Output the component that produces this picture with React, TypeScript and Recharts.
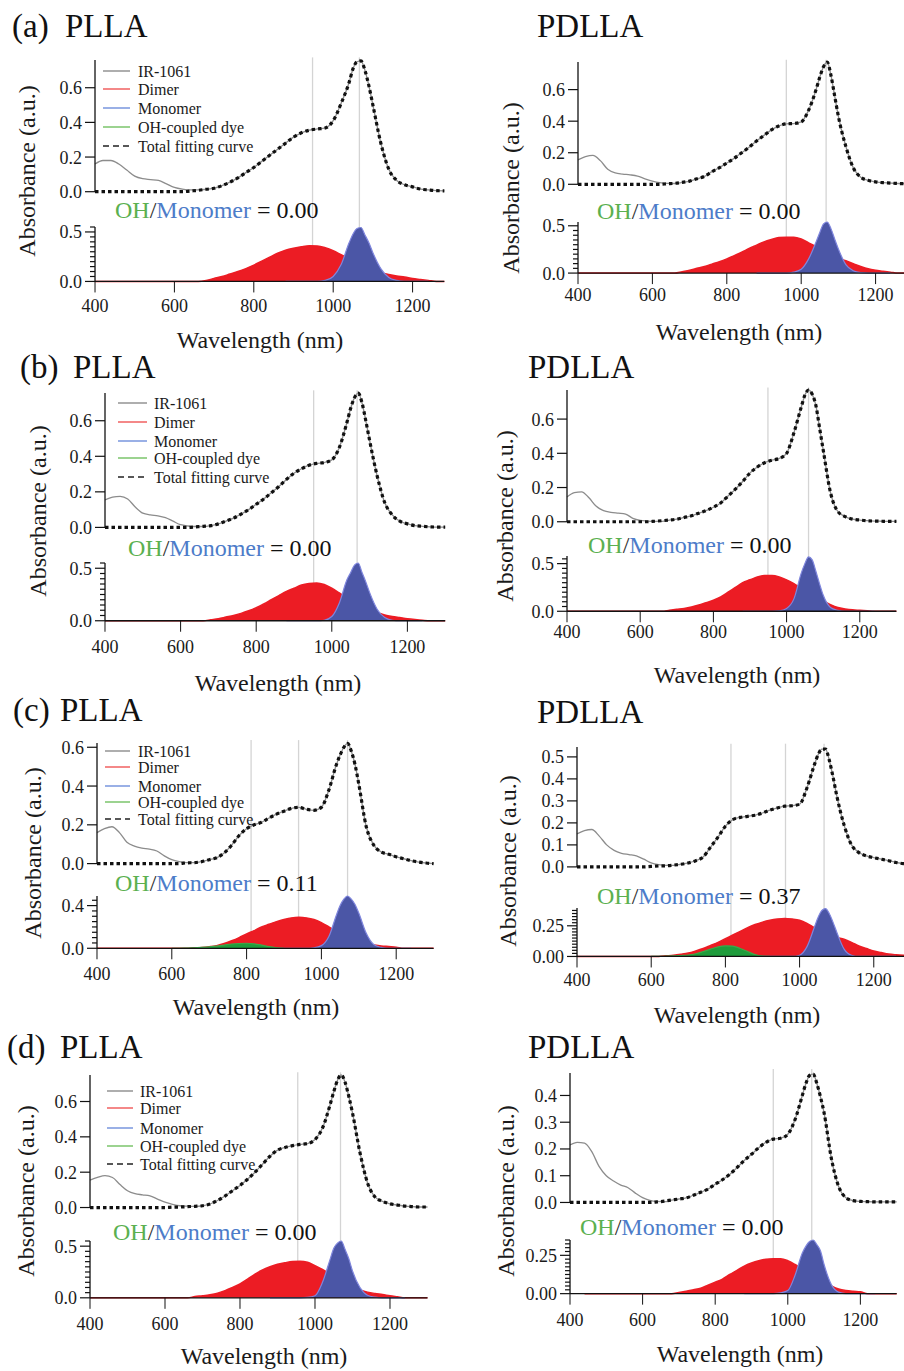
import React from "react";
import { ComposedChart, Line, Area, XAxis, YAxis, ReferenceLine } from "recharts";

const FONT = '"Liberation Serif", "Times New Roman", Times, serif';
const n = null;

// wavelength grid (nm): 20 nm steps, 10 nm steps around the monomer peak
const wavelengths = [
  400, 420, 440, 460, 480, 500, 520, 540, 560, 580,
  600, 620, 640, 660, 680, 700, 720, 740, 760, 780,
  800, 820, 840, 860, 880, 900, 920, 940, 960, 980,
  1000, 1020, 1040, 1050, 1060, 1070, 1080, 1090, 1100,
  1120, 1140, 1160, 1180, 1200, 1220, 1240, 1260, 1280, 1300,
];
const xTicks = [400, 600, 800, 1000, 1200];

// IR-1061 below 660 nm (above that it sits under the fitting curve)
const aPllaIr = [0.16, 0.18, 0.18, 0.16, 0.125, 0.09, 0.075, 0.07, 0.065, 0.045, 0.025, 0.015, 0.01, 0.01];
const aPdllaIr = [0.155, 0.175, 0.183, 0.15, 0.095, 0.072, 0.065, 0.06, 0.052, 0.035, 0.02, 0.01, 0.006, 0.005];
const bPllaIr = [0.155, 0.17, 0.175, 0.16, 0.115, 0.08, 0.07, 0.065, 0.055, 0.035, 0.015, 0.008, 0.005, 0.005];
const bPdllaIr = [0.145, 0.17, 0.175, 0.14, 0.09, 0.065, 0.055, 0.05, 0.045, 0.02, 0.008, 0.004, 0.002, 0.002];
const cPllaIr = [0.16, 0.18, 0.19, 0.16, 0.11, 0.09, 0.08, 0.075, 0.065, 0.04, 0.02, 0.01, 0.005, 0.005];
const cPdllaIr = [0.15, 0.165, 0.17, 0.14, 0.1, 0.075, 0.062, 0.056, 0.05, 0.035, 0.018, 0.01, 0.007, 0.007];
const dPllaIr = [0.155, 0.17, 0.18, 0.17, 0.13, 0.095, 0.078, 0.072, 0.066, 0.048, 0.03, 0.018, 0.01, 0.008];
const dPdllaIr = [0.215, 0.225, 0.222, 0.19, 0.135, 0.1, 0.08, 0.065, 0.055, 0.035, 0.018, 0.008, 0.004, 0.003];

// total fitting curves
const aPllaFit = [
  0, 0, 0, 0, 0, 0, 0, 0, 0, 0,
  0, 0, 0.004, 0.008, 0.014, 0.02, 0.035, 0.055, 0.08, 0.11,
  0.14, 0.175, 0.21, 0.245, 0.28, 0.315, 0.34, 0.355, 0.362, 0.368,
  0.41, 0.51, 0.63, 0.71, 0.75, 0.755, 0.7, 0.61, 0.5,
  0.28, 0.13, 0.065, 0.04, 0.028, 0.015, 0.01, 0.006, 0.005, 0.005,
];
const aPdllaFit = [
  0, 0, 0, 0, 0, 0, 0, 0, 0, 0,
  0, 0, 0.003, 0.006, 0.012, 0.02, 0.035, 0.05, 0.08, 0.105,
  0.135, 0.165, 0.2, 0.235, 0.275, 0.31, 0.345, 0.37, 0.383, 0.385,
  0.395, 0.47, 0.6, 0.68, 0.745, 0.775, 0.69, 0.56, 0.43,
  0.24, 0.105, 0.045, 0.025, 0.015, 0.01, 0.008, 0.005, 0.004, 0.004,
];
const bPllaFit = [
  0, 0, 0, 0, 0, 0, 0, 0, 0, 0,
  0, 0, 0.003, 0.006, 0.01, 0.02, 0.035, 0.052, 0.075, 0.1,
  0.13, 0.16, 0.195, 0.23, 0.27, 0.305, 0.33, 0.35, 0.36, 0.365,
  0.38, 0.45, 0.59, 0.67, 0.73, 0.755, 0.7, 0.6, 0.49,
  0.29, 0.14, 0.07, 0.035, 0.02, 0.01, 0.006, 0.003, 0.002, 0.002,
];
const bPdllaFit = [
  0, 0, 0, 0, 0, 0, 0, 0, 0, 0,
  0, 0, 0.003, 0.006, 0.01, 0.015, 0.025, 0.035, 0.05, 0.065,
  0.085, 0.11, 0.15, 0.19, 0.235, 0.285, 0.32, 0.345, 0.36, 0.37,
  0.4, 0.52, 0.67, 0.74, 0.77, 0.745, 0.68, 0.55, 0.42,
  0.17, 0.06, 0.03, 0.015, 0.01, 0.006, 0.004, 0.003, 0.002, 0.002,
];
const cPllaFit = [
  0, 0, 0, 0, 0, 0, 0, 0, 0, 0,
  0, 0, 0.004, 0.005, 0.01, 0.02, 0.03, 0.055, 0.095, 0.145,
  0.18, 0.2, 0.213, 0.235, 0.255, 0.27, 0.285, 0.29, 0.28, 0.275,
  0.29, 0.38, 0.51, 0.56, 0.6, 0.62, 0.58, 0.51, 0.41,
  0.19, 0.095, 0.06, 0.048, 0.035, 0.025, 0.015, 0.008, 0.003, 0,
];
const cPdllaFit = [
  0, 0, 0, 0, 0, 0, 0, 0, 0, 0,
  0.002, 0.004, 0.005, 0.008, 0.012, 0.018, 0.028, 0.045, 0.09, 0.135,
  0.185, 0.215, 0.225, 0.23, 0.235, 0.245, 0.258, 0.268, 0.276, 0.278,
  0.285, 0.36, 0.465, 0.51, 0.535, 0.535, 0.485, 0.41, 0.325,
  0.19, 0.1, 0.065, 0.05, 0.042, 0.035, 0.028, 0.02, 0.015, 0.012,
];
const dPllaFit = [
  0, 0, 0, 0, 0, 0, 0, 0, 0, 0,
  0, 0.002, 0.003, 0.005, 0.007, 0.01, 0.02, 0.04, 0.065, 0.095,
  0.125, 0.16, 0.2, 0.245, 0.29, 0.325, 0.34, 0.35, 0.357, 0.362,
  0.385, 0.45, 0.58, 0.655, 0.72, 0.75, 0.71, 0.63, 0.535,
  0.31, 0.14, 0.06, 0.035, 0.021, 0.014, 0.008, 0.005, 0.003, 0.003,
];
const dPdllaFit = [
  0, 0, 0, 0, 0, 0, 0, 0, 0, 0,
  0, 0, 0.002, 0.005, 0.009, 0.013, 0.017, 0.027, 0.038, 0.05,
  0.068, 0.085, 0.105, 0.13, 0.157, 0.18, 0.205, 0.225, 0.237, 0.24,
  0.255, 0.31, 0.4, 0.445, 0.475, 0.48, 0.445, 0.395, 0.335,
  0.165, 0.06, 0.018, 0.007, 0.004, 0.003, 0.002, 0.002, 0.002, 0.002,
];

// dimer components
const aPllaDimer = [
  0, 0, 0, 0, 0, 0, 0, 0, 0, 0,
  0, 0, 0, 0, 0.01, 0.03, 0.05, 0.075, 0.1, 0.13,
  0.165, 0.205, 0.245, 0.285, 0.315, 0.335, 0.35, 0.36, 0.358, 0.34,
  0.31, 0.27, 0.23, 0.21, 0.19, 0.17, 0.15, 0.135, 0.12,
  0.09, 0.07, 0.055, 0.045, 0.03, 0.02, 0.01, 0, 0, 0,
];
const aPdllaDimer = [
  0, 0, 0, 0, 0, 0, 0, 0, 0, 0,
  0, 0, 0, 0, 0.015, 0.03, 0.05, 0.07, 0.095, 0.12,
  0.15, 0.185, 0.22, 0.26, 0.295, 0.33, 0.355, 0.375, 0.38, 0.38,
  0.36, 0.32, 0.28, 0.26, 0.24, 0.22, 0.2, 0.18, 0.16,
  0.13, 0.1, 0.07, 0.045, 0.03, 0.02, 0.01, 0, 0, 0,
];
const bPllaDimer = [
  0, 0, 0, 0, 0, 0, 0, 0, 0, 0,
  0, 0, 0, 0, 0.01, 0.02, 0.035, 0.05, 0.07, 0.095,
  0.125, 0.16, 0.2, 0.24, 0.28, 0.31, 0.34, 0.355, 0.36, 0.345,
  0.31, 0.265, 0.22, 0.2, 0.18, 0.16, 0.14, 0.125, 0.11,
  0.08, 0.055, 0.04, 0.03, 0.02, 0.012, 0.005, 0, 0, 0,
];
const bPdllaDimer = [
  0, 0, 0, 0, 0, 0, 0, 0, 0, 0,
  0, 0, 0, 0, 0.01, 0.02, 0.03, 0.045, 0.065, 0.09,
  0.115, 0.15, 0.2, 0.25, 0.3, 0.33, 0.36, 0.375, 0.375, 0.36,
  0.33, 0.29, 0.24, 0.22, 0.2, 0.175, 0.15, 0.13, 0.11,
  0.07, 0.04, 0.025, 0.015, 0.01, 0.005, 0, 0, 0, 0,
];
const cPllaDimer = [
  0, 0, 0, 0, 0, 0, 0, 0, 0, 0,
  0, 0, 0, 0.004, 0.008, 0.015, 0.025, 0.045, 0.07, 0.1,
  0.135, 0.165, 0.2, 0.225, 0.25, 0.27, 0.285, 0.29, 0.285, 0.27,
  0.24, 0.2, 0.16, 0.14, 0.12, 0.105, 0.09, 0.075, 0.065,
  0.045, 0.03, 0.022, 0.016, 0.01, 0, 0, 0, 0, 0,
];
const cPdllaDimer = [
  0, 0, 0, 0, 0, 0, 0, 0, 0, 0,
  0, 0, 0.005, 0.01, 0.018, 0.028, 0.045, 0.065, 0.09, 0.115,
  0.145, 0.175, 0.205, 0.235, 0.26, 0.28, 0.295, 0.305, 0.31, 0.305,
  0.295, 0.27, 0.235, 0.22, 0.205, 0.19, 0.178, 0.165, 0.155,
  0.14, 0.115, 0.085, 0.065, 0.045, 0.032, 0.02, 0.014, 0.01, 0.008,
];
const dPllaDimer = [
  0, 0, 0, 0, 0, 0, 0, 0, 0, 0,
  0, 0, 0, 0, 0.012, 0.02, 0.03, 0.045, 0.07, 0.1,
  0.135, 0.18, 0.23, 0.27, 0.3, 0.325, 0.34, 0.352, 0.355, 0.345,
  0.31, 0.275, 0.23, 0.205, 0.18, 0.16, 0.14, 0.12, 0.1,
  0.075, 0.055, 0.042, 0.032, 0.02, 0.01, 0, 0, 0, 0,
];
const dPdllaDimer = [
  n, n, 0, 0, 0, 0, 0, 0, 0, 0,
  0, 0, 0, 0, 0, 0.008, 0.015, 0.025, 0.035, 0.055,
  0.075, 0.095, 0.125, 0.152, 0.18, 0.2, 0.215, 0.225, 0.228, 0.228,
  0.215, 0.19, 0.16, 0.145, 0.13, 0.115, 0.1, 0.088, 0.075,
  0.05, 0.03, 0.02, 0.015, 0.012, 0, 0, 0, 0, 0,
];

// monomer components
const aPllaMono = [
  n, n, n, n, n, n, n, n, n, n,
  n, n, n, n, n, n, n, n, n, n,
  n, n, n, n, 0, 0, 0, 0, 0, 0.01,
  0.05, 0.17, 0.39, 0.48, 0.535, 0.545, 0.47, 0.39, 0.29,
  0.13, 0.04, 0.01, 0, 0, 0, 0, n, n, n,
];
const aPdllaMono = [
  n, n, n, n, n, n, n, n, n, n,
  n, n, n, n, n, n, n, n, n, n,
  n, n, n, n, 0, 0, 0, 0, 0, 0.01,
  0.04, 0.15, 0.33, 0.43, 0.52, 0.54, 0.47, 0.36, 0.255,
  0.09, 0.025, 0.005, 0, 0, 0, 0, n, n, n,
];
const bPllaMono = [
  n, n, n, n, n, n, n, n, n, n,
  n, n, n, n, n, n, n, n, n, n,
  n, n, n, n, 0, 0, 0, 0, 0, 0.005,
  0.04, 0.17, 0.39, 0.46, 0.53, 0.55, 0.46, 0.37, 0.27,
  0.11, 0.03, 0.005, 0, 0, 0, 0, n, n, n,
];
const bPdllaMono = [
  n, n, n, n, n, n, n, n, n, n,
  n, n, n, n, n, n, n, n, n, n,
  n, n, n, n, 0, 0, 0, 0, 0, 0.005,
  0.03, 0.13, 0.4, 0.5, 0.57, 0.54, 0.42, 0.29, 0.17,
  0.04, 0.01, 0, 0, 0, 0, 0, n, n, n,
];
const cPllaMono = [
  n, n, n, n, n, n, n, n, n, n,
  n, n, n, n, n, n, n, n, n, n,
  n, n, 0, 0, 0, 0, 0, 0, 0, 0.005,
  0.025, 0.11, 0.31, 0.4, 0.46, 0.49, 0.46, 0.41, 0.33,
  0.14, 0.035, 0.008, 0, 0, 0, 0, n, n, n,
];
const cPdllaMono = [
  n, n, n, n, n, n, n, n, n, n,
  n, n, n, n, n, n, n, n, n, n,
  n, n, n, n, 0, 0, 0, 0, 0, 0,
  0.01, 0.08, 0.24, 0.32, 0.375, 0.39, 0.35, 0.28, 0.2,
  0.06, 0.01, 0, 0, 0, 0, 0, 0, n, n,
];
const dPllaMono = [
  n, n, n, n, n, n, n, n, n, n,
  n, n, n, n, n, n, n, n, n, n,
  n, n, n, n, 0, 0, 0, 0, 0, 0.004,
  0.02, 0.15, 0.37, 0.48, 0.53, 0.55, 0.47, 0.38, 0.26,
  0.1, 0.025, 0.006, 0, 0, 0, 0, n, n, n,
];
const dPdllaMono = [
  n, n, n, n, n, n, n, n, n, n,
  n, n, n, n, n, n, n, n, n, n,
  n, n, n, n, 0, 0, 0, 0, 0, 0.005,
  0.02, 0.12, 0.265, 0.31, 0.34, 0.35, 0.32, 0.28, 0.19,
  0.06, 0.01, 0, 0, 0, 0, 0, n, n, n,
];

// OH-coupled dye components (only in c)
const cPllaOh = [
  n, n, n, n, n, n, n, n, n, n,
  0, 0, 0.002, 0.004, 0.008, 0.013, 0.02, 0.03, 0.04, 0.045,
  0.047, 0.042, 0.03, 0.015, 0.005, 0, n, n, n, n,
  n, n, n, n, n, n, n, n, n,
  n, n, n, n, n, n, n, n, n, n,
];
const cPdllaOh = [
  n, n, n, n, n, n, n, n, n, n,
  0, 0.001, 0.002, 0.004, 0.008, 0.012, 0.022, 0.04, 0.06, 0.078,
  0.087, 0.085, 0.065, 0.04, 0.015, 0.003, 0, n, n, n,
  n, n, n, n, n, n, n, n, n,
  n, n, n, n, n, n, n, n, n, n,
];

// peak guide lines (nm)
const aPllaPeaks = [948, 1066];
const aPdllaPeaks = [960, 1067];
const bPllaPeaks = [952, 1067];
const bPdllaPeaks = [949, 1060];
const cPllaPeaks = [812, 939, 1070];
const cPdllaPeaks = [815, 962, 1066];
const dPllaPeaks = [954, 1068];
const dPdllaPeaks = [960, 1066];

const ohRatios = ["0.00", "0.00", "0.00", "0.00", "0.11", "0.37", "0.00", "0.00"];

const YW = 60;
const MT = 14;

type Geo = {
  axisX: number; ppn: number; xmax: number;
  topZero: number; topUnit: number; topMax: number; topTicks: number[];
  botZero: number; botUnit: number; botMax: number; botTicks: number[]; botDigits: number; botMinor: number;
  labelGap: number;
};

const T2 = [0, 0.2, 0.4, 0.6];

const panels = [
  { ir: aPllaIr, fit: aPllaFit, dimer: aPllaDimer, mono: aPllaMono, oh: null, peaks: aPllaPeaks,
    geo: { axisX: 95, ppn: 0.397, xmax: 1280, topZero: 191.7, topUnit: 173.3, topMax: 0.76, topTicks: T2,
      botZero: 281.5, botUnit: 99, botMax: 0.55, botTicks: [0, 0.5], botDigits: 1, botMinor: 0.05, labelGap: 24.5 } },
  { ir: aPdllaIr, fit: aPdllaFit, dimer: aPdllaDimer, mono: aPdllaMono, oh: null, peaks: aPdllaPeaks,
    geo: { axisX: 578.3, ppn: 0.372, xmax: 1300, topZero: 184, topUnit: 157.8, topMax: 0.775, topTicks: T2,
      botZero: 273.3, botUnit: 94.6, botMax: 0.54, botTicks: [0, 0.5], botDigits: 1, botMinor: 0.05, labelGap: 21.7 } },
  { ir: bPllaIr, fit: bPllaFit, dimer: bPllaDimer, mono: bPllaMono, oh: null, peaks: bPllaPeaks,
    geo: { axisX: 104.5, ppn: 0.378, xmax: 1300, topZero: 527.7, topUnit: 177.8, topMax: 0.756, topTicks: T2,
      botZero: 620.5, botUnit: 105, botMax: 0.55, botTicks: [0, 0.5], botDigits: 1, botMinor: 0.05, labelGap: 26.2 } },
  { ir: bPdllaIr, fit: bPdllaFit, dimer: bPdllaDimer, mono: bPdllaMono, oh: null, peaks: bPdllaPeaks,
    geo: { axisX: 567.3, ppn: 0.366, xmax: 1300, topZero: 521.7, topUnit: 171.1, topMax: 0.77, topTicks: T2,
      botZero: 611, botUnit: 95.3, botMax: 0.58, botTicks: [0, 0.5], botDigits: 1, botMinor: 0.05, labelGap: 21 } },
  { ir: cPllaIr, fit: cPllaFit, dimer: cPllaDimer, mono: cPllaMono, oh: cPllaOh, peaks: cPllaPeaks,
    geo: { axisX: 96.7, ppn: 0.374, xmax: 1300, topZero: 864, topUnit: 193.9, topMax: 0.622, topTicks: T2,
      botZero: 948.7, botUnit: 106.7, botMax: 0.49, botTicks: [0, 0.4], botDigits: 1, botMinor: 0.05, labelGap: 26.3 } },
  { ir: cPdllaIr, fit: cPdllaFit, dimer: cPdllaDimer, mono: cPdllaMono, oh: cPdllaOh, peaks: cPdllaPeaks,
    geo: { axisX: 576.7, ppn: 0.371, xmax: 1300, topZero: 866.7, topUnit: 220, topMax: 0.545, topTicks: [0, 0.1, 0.2, 0.3, 0.4, 0.5],
      botZero: 956.7, botUnit: 122.7, botMax: 0.395, botTicks: [0, 0.25], botDigits: 2, botMinor: 0.025, labelGap: 23.3 } },
  { ir: dPllaIr, fit: dPllaFit, dimer: dPllaDimer, mono: dPllaMono, oh: null, peaks: dPllaPeaks,
    geo: { axisX: 90, ppn: 0.375, xmax: 1300, topZero: 1207.7, topUnit: 176.7, topMax: 0.75, topTicks: T2,
      botZero: 1298.3, botUnit: 103.3, botMax: 0.55, botTicks: [0, 0.5], botDigits: 1, botMinor: 0.05, labelGap: 26.7 } },
  { ir: dPdllaIr, fit: dPdllaFit, dimer: dPdllaDimer, mono: dPdllaMono, oh: null, peaks: dPdllaPeaks,
    geo: { axisX: 570, ppn: 0.363, xmax: 1300, topZero: 1202.7, topUnit: 267.5, topMax: 0.484, topTicks: [0, 0.1, 0.2, 0.3, 0.4],
      botZero: 1293.3, botUnit: 153.3, botMax: 0.35, botTicks: [0, 0.25], botDigits: 2, botMinor: 0.025, labelGap: 26.7 } },
];

// text placement
const titles = [
  { tag: "(a)", tagX: 12, name: "PLLA", x: 65, y: 37 },
  { tag: "", tagX: 0, name: "PDLLA", x: 537, y: 37 },
  { tag: "(b)", tagX: 20, name: "PLLA", x: 73, y: 378 },
  { tag: "", tagX: 0, name: "PDLLA", x: 528, y: 378 },
  { tag: "(c)", tagX: 13, name: "PLLA", x: 60, y: 721 },
  { tag: "", tagX: 0, name: "PDLLA", x: 537, y: 723 },
  { tag: "(d)", tagX: 7, name: "PLLA", x: 60, y: 1058 },
  { tag: "", tagX: 0, name: "PDLLA", x: 528, y: 1058 },
];
const ohPos = [[115, 218], [597, 219], [128, 556], [588, 553], [115, 891], [597, 904], [113, 1240], [580, 1235]];
const xTitlePos = [[260, 348], [739, 340], [278, 691], [737, 683], [256, 1015], [737, 1023], [264, 1364], [740, 1362]];
const yTitlePos = [[35, 171], [519, 188], [46, 511], [513, 516], [41, 853], [516, 861], [34, 1191], [514, 1191]];
const legendPos = [
  { x1: 103, x2: 130, tx: 138, rows: [71, 89, 108, 127, 146] },
  { x1: 118, x2: 147, tx: 154, rows: [403, 422, 441, 458, 477] },
  { x1: 105, x2: 130, tx: 138, rows: [751, 767, 786, 802, 819] },
  { x1: 107, x2: 133, tx: 140, rows: [1091, 1108, 1128, 1146, 1164] },
];
const legendItems = [
  { label: "IR-1061", color: "#8c8c8c", dash: undefined as string | undefined },
  { label: "Dimer", color: "#f05555", dash: undefined },
  { label: "Monomer", color: "#6f8fdc", dash: undefined },
  { label: "OH-coupled dye", color: "#72c060", dash: undefined },
  { label: "Total fitting curve", color: "#222", dash: "6 4" },
];

function withMinor(step: number, max: number) {
  const out: number[] = [];
  for (let k = 0; k * step <= max + 1e-9; k++) out.push(Math.round(k * step * 1000) / 1000);
  return out;
}

function YTick(props: any) {
  const { x, y, payload, majors, digits } = props;
  const v = payload.value as number;
  const major = majors.some((m: number) => Math.abs(m - v) < 1e-6);
  return (
    <g>
      <line x1={x} y1={y} x2={x - (major ? 10 : 5)} y2={y} stroke="#111" strokeWidth={1.2} />
      {major && (
        <text x={x - 13} y={y} dy="0.36em" textAnchor="end" fontSize={18} fontFamily={FONT} fill="#1a1a1a">
          {v.toFixed(digits)}
        </text>
      )}
    </g>
  );
}

function Panel({ p }: { p: (typeof panels)[number] }) {
  const g: Geo = p.geo;
  const rows = wavelengths
    .map((x, i) => ({
      x,
      ir: i < p.ir.length ? p.ir[i] : p.fit[i],
      fit: p.fit[i],
      dimer: p.dimer[i],
      mono: p.mono[i],
      oh: p.oh ? p.oh[i] : null,
    }))
    .filter((r) => r.x <= g.xmax);
  const plotW = (g.xmax - 400) * g.ppn;
  const topH = g.topMax * g.topUnit;
  const botH = g.botMax * g.botUnit;
  const gap = g.botZero - g.topZero;
  const chartW = YW + plotW + 4;
  const botTicks = withMinor(g.botMinor, g.botMax);
  const XH = 46;

  return (
    <>
      <div style={{ position: "absolute", left: g.axisX - YW, top: g.topZero - topH - MT }}>
        <ComposedChart width={chartW} height={MT + topH + gap} data={rows}
          margin={{ top: MT, right: 4, bottom: gap, left: 0 }}>
          <XAxis type="number" dataKey="x" domain={[400, g.xmax]} hide />
          <YAxis type="number" domain={[0, g.topMax]} ticks={g.topTicks} interval={0} width={YW}
            tickLine={false} tickSize={0} tickMargin={0} stroke="#111"
            axisLine={{ stroke: "#111", strokeWidth: 1.3 }}
            tick={(t: any) => <YTick {...t} majors={g.topTicks} digits={1} />} />
          {p.peaks.map((w) => (
            <ReferenceLine key={w} ifOverflow="visible" stroke="#d4d4d4" strokeWidth={1.3}
              segment={[{ x: w, y: g.topMax + 0.015 }, { x: w, y: -gap / g.topUnit }]} />
          ))}
          <Line type="monotone" dataKey="ir" stroke="#8c8c8c" strokeWidth={1.3} dot={false} isAnimationActive={false} />
          <Line type="monotone" dataKey="fit" stroke="#111" strokeWidth={3.2} strokeDasharray="3.5 3"
            dot={false} isAnimationActive={false} />
        </ComposedChart>
      </div>
      <div style={{ position: "absolute", left: g.axisX - YW, top: g.botZero - botH - MT }}>
        <ComposedChart width={chartW} height={MT + botH + XH} data={rows}
          margin={{ top: MT, right: 4, bottom: 0, left: 0 }}>
          <XAxis type="number" dataKey="x" domain={[400, g.xmax]} ticks={xTicks} interval={0} height={XH}
            tickSize={11} tickMargin={g.labelGap - 6.9 - 11} stroke="#111"
            axisLine={{ stroke: "#111", strokeWidth: 1.3 }}
            tick={{ fontSize: 18, fill: "#1a1a1a", fontFamily: FONT }} />
          <YAxis type="number" domain={[0, g.botMax]} ticks={botTicks} interval={0} width={YW}
            tickLine={false} tickSize={0} tickMargin={0} stroke="#111"
            axisLine={{ stroke: "#111", strokeWidth: 1.3 }}
            tick={(t: any) => <YTick {...t} majors={g.botTicks} digits={g.botDigits} />} />
          <Area type="monotone" dataKey="dimer" stroke="#ec1c24" strokeWidth={1.5} fill="#ec1c24"
            fillOpacity={1} isAnimationActive={false} />
          <Area type="monotone" dataKey="mono" stroke="#7f86dd" strokeWidth={1.2} fill="#4b56a6"
            fillOpacity={1} isAnimationActive={false} />
          {p.oh && (
            <Area type="monotone" dataKey="oh" stroke="#3aaa4a" strokeWidth={1.2} fill="#1f9c3c"
              fillOpacity={1} isAnimationActive={false} />
          )}
        </ComposedChart>
      </div>
    </>
  );
}

export default function App() {
  return (
    <div style={{ position: "absolute", left: 0, top: 0, width: 904, height: 1371, overflow: "hidden", background: "#fff" }}>
      {panels.map((p, i) => (
        <Panel key={i} p={p} />
      ))}
      <svg width={904} height={1371} style={{ position: "absolute", left: 0, top: 0, pointerEvents: "none" }}
        fontFamily={FONT}>
        {titles.map((t, i) => (
          <g key={"t" + i} fontSize={33} fill="#111">
            {t.tag && <text x={t.tagX} y={t.y}>{t.tag}</text>}
            <text x={t.x} y={t.y}>{t.name}</text>
          </g>
        ))}
        {ohPos.map(([x, y], i) => (
          <text key={"oh" + i} x={x} y={y} fontSize={24} fill="#111">
            <tspan fill="#5bb04f">OH</tspan>
            <tspan fill="#333">/</tspan>
            <tspan fill="#4d7cc9">Monomer</tspan>
            <tspan fill="#111">{" = " + ohRatios[i]}</tspan>
          </text>
        ))}
        {xTitlePos.map(([x, y], i) => (
          <text key={"xt" + i} x={x} y={y} fontSize={24} textAnchor="middle" fill="#1a1a1a">
            Wavelength (nm)
          </text>
        ))}
        {yTitlePos.map(([x, y], i) => (
          <text key={"yt" + i} transform={`translate(${x},${y}) rotate(-90)`} fontSize={24}
            textAnchor="middle" fill="#1a1a1a">
            Absorbance (a.u.)
          </text>
        ))}
        {legendPos.map((l, i) => (
          <g key={"lg" + i}>
            {legendItems.map((it, j) => (
              <g key={j}>
                <line x1={l.x1} x2={l.x2} y1={l.rows[j]} y2={l.rows[j]} stroke={it.color}
                  strokeWidth={it.dash ? 1.6 : 1.4} strokeDasharray={it.dash} />
                <text x={l.tx} y={l.rows[j] + 5.5} fontSize={16} fill="#1a1a1a">{it.label}</text>
              </g>
            ))}
          </g>
        ))}
      </svg>
    </div>
  );
}
